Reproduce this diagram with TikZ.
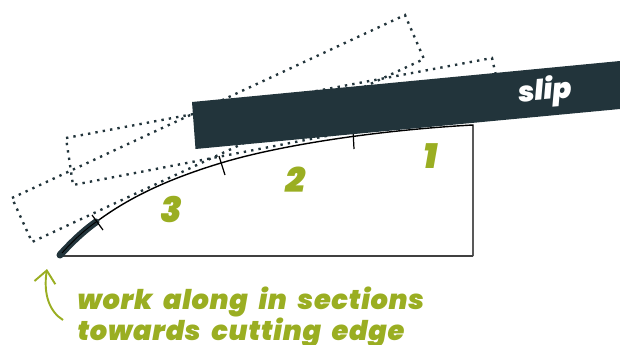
\documentclass[tikz,border=0pt]{standalone}
\usepackage{fontspec}
\usepackage{xcolor}
\newfontface\labelfont{Poppins Black Italic}
\newfontface\notefont[LetterSpace=2.5,WordSpace=2]{Poppins Black Italic}
\usetikzlibrary{arrows.meta}
\definecolor{slipdark}{HTML}{22343B}
\definecolor{labelgreen}{HTML}{9AAE22}

\begin{document}
\begin{tikzpicture}[
    x=0.02cm, y=-0.02cm,
    trace/.style={draw=slipdark, line width=1.35pt, dash pattern=on 1.35pt off 2.9pt},
    profile/.style={draw=black, line width=0.8pt},
    tick/.style={draw=black, line width=0.7pt},
    number/.style={text=labelgreen, font=\fontsize{20}{20}\labelfont, inner sep=0pt},
    note/.style={text=labelgreen, font=\fontsize{15.5}{18}\notefont, inner sep=0pt, anchor=base west}
]
    \useasboundingbox (0,0) rectangle (620,345);

    % earlier positions of the slip
    \draw[trace] (12,198) -- (405,15) -- (424,59) -- (32,242) -- cycle;
    \draw[trace] (66,138) -- (492,58) -- (502,102) -- (73,185) -- cycle;

    % blade
    \draw[profile] (60,255) .. controls (105,205) and (165,180) .. (221,163) .. controls (280,145) and (380,130) .. (473,125) -- (473,256);
    \draw[draw=black!75, line width=1pt] (473,256) -- (60,256);
    \draw[draw=slipdark, line width=4pt, line cap=round] (60,255) .. controls (70,244) and (82,232) .. (96,222);
    \draw[draw=black, line width=0.5pt] (62,253) .. controls (72,242) and (82,232) .. (96,222);
    \draw[tick] (92,215) -- (103,230);
    \draw[tick] (219,156) -- (225,175);
    \draw[tick] (353,130) -- (354,149);

    \fill[slipdark] (192,102) -- (620,61) -- (620,109) -- (195.5,149) -- cycle;
    \node[rotate=5, text=white, font=\fontsize{16}{18}\labelfont, inner sep=0pt] (slip) at (545,92) {slip};

    \node[number] (one) at (431,156) {1};
    \node[number] (two) at (295,180) {2};
    \node[number] (three) at (171,209) {3};

    \node[note] (workline) at (77,309) {work along in sections};
    \node[note] (towardline) at (77,340) {towards cutting edge};

    \coordinate (arrowstart) at (63,320);
    \coordinate (arrowend) at (47,269);
    \draw[draw=labelgreen, line width=1.1pt, -{Straight Barb[length=7pt,width=12pt]}] (arrowstart) .. controls (50,312) and (43,295) .. (arrowend);
\end{tikzpicture}
\end{document}
